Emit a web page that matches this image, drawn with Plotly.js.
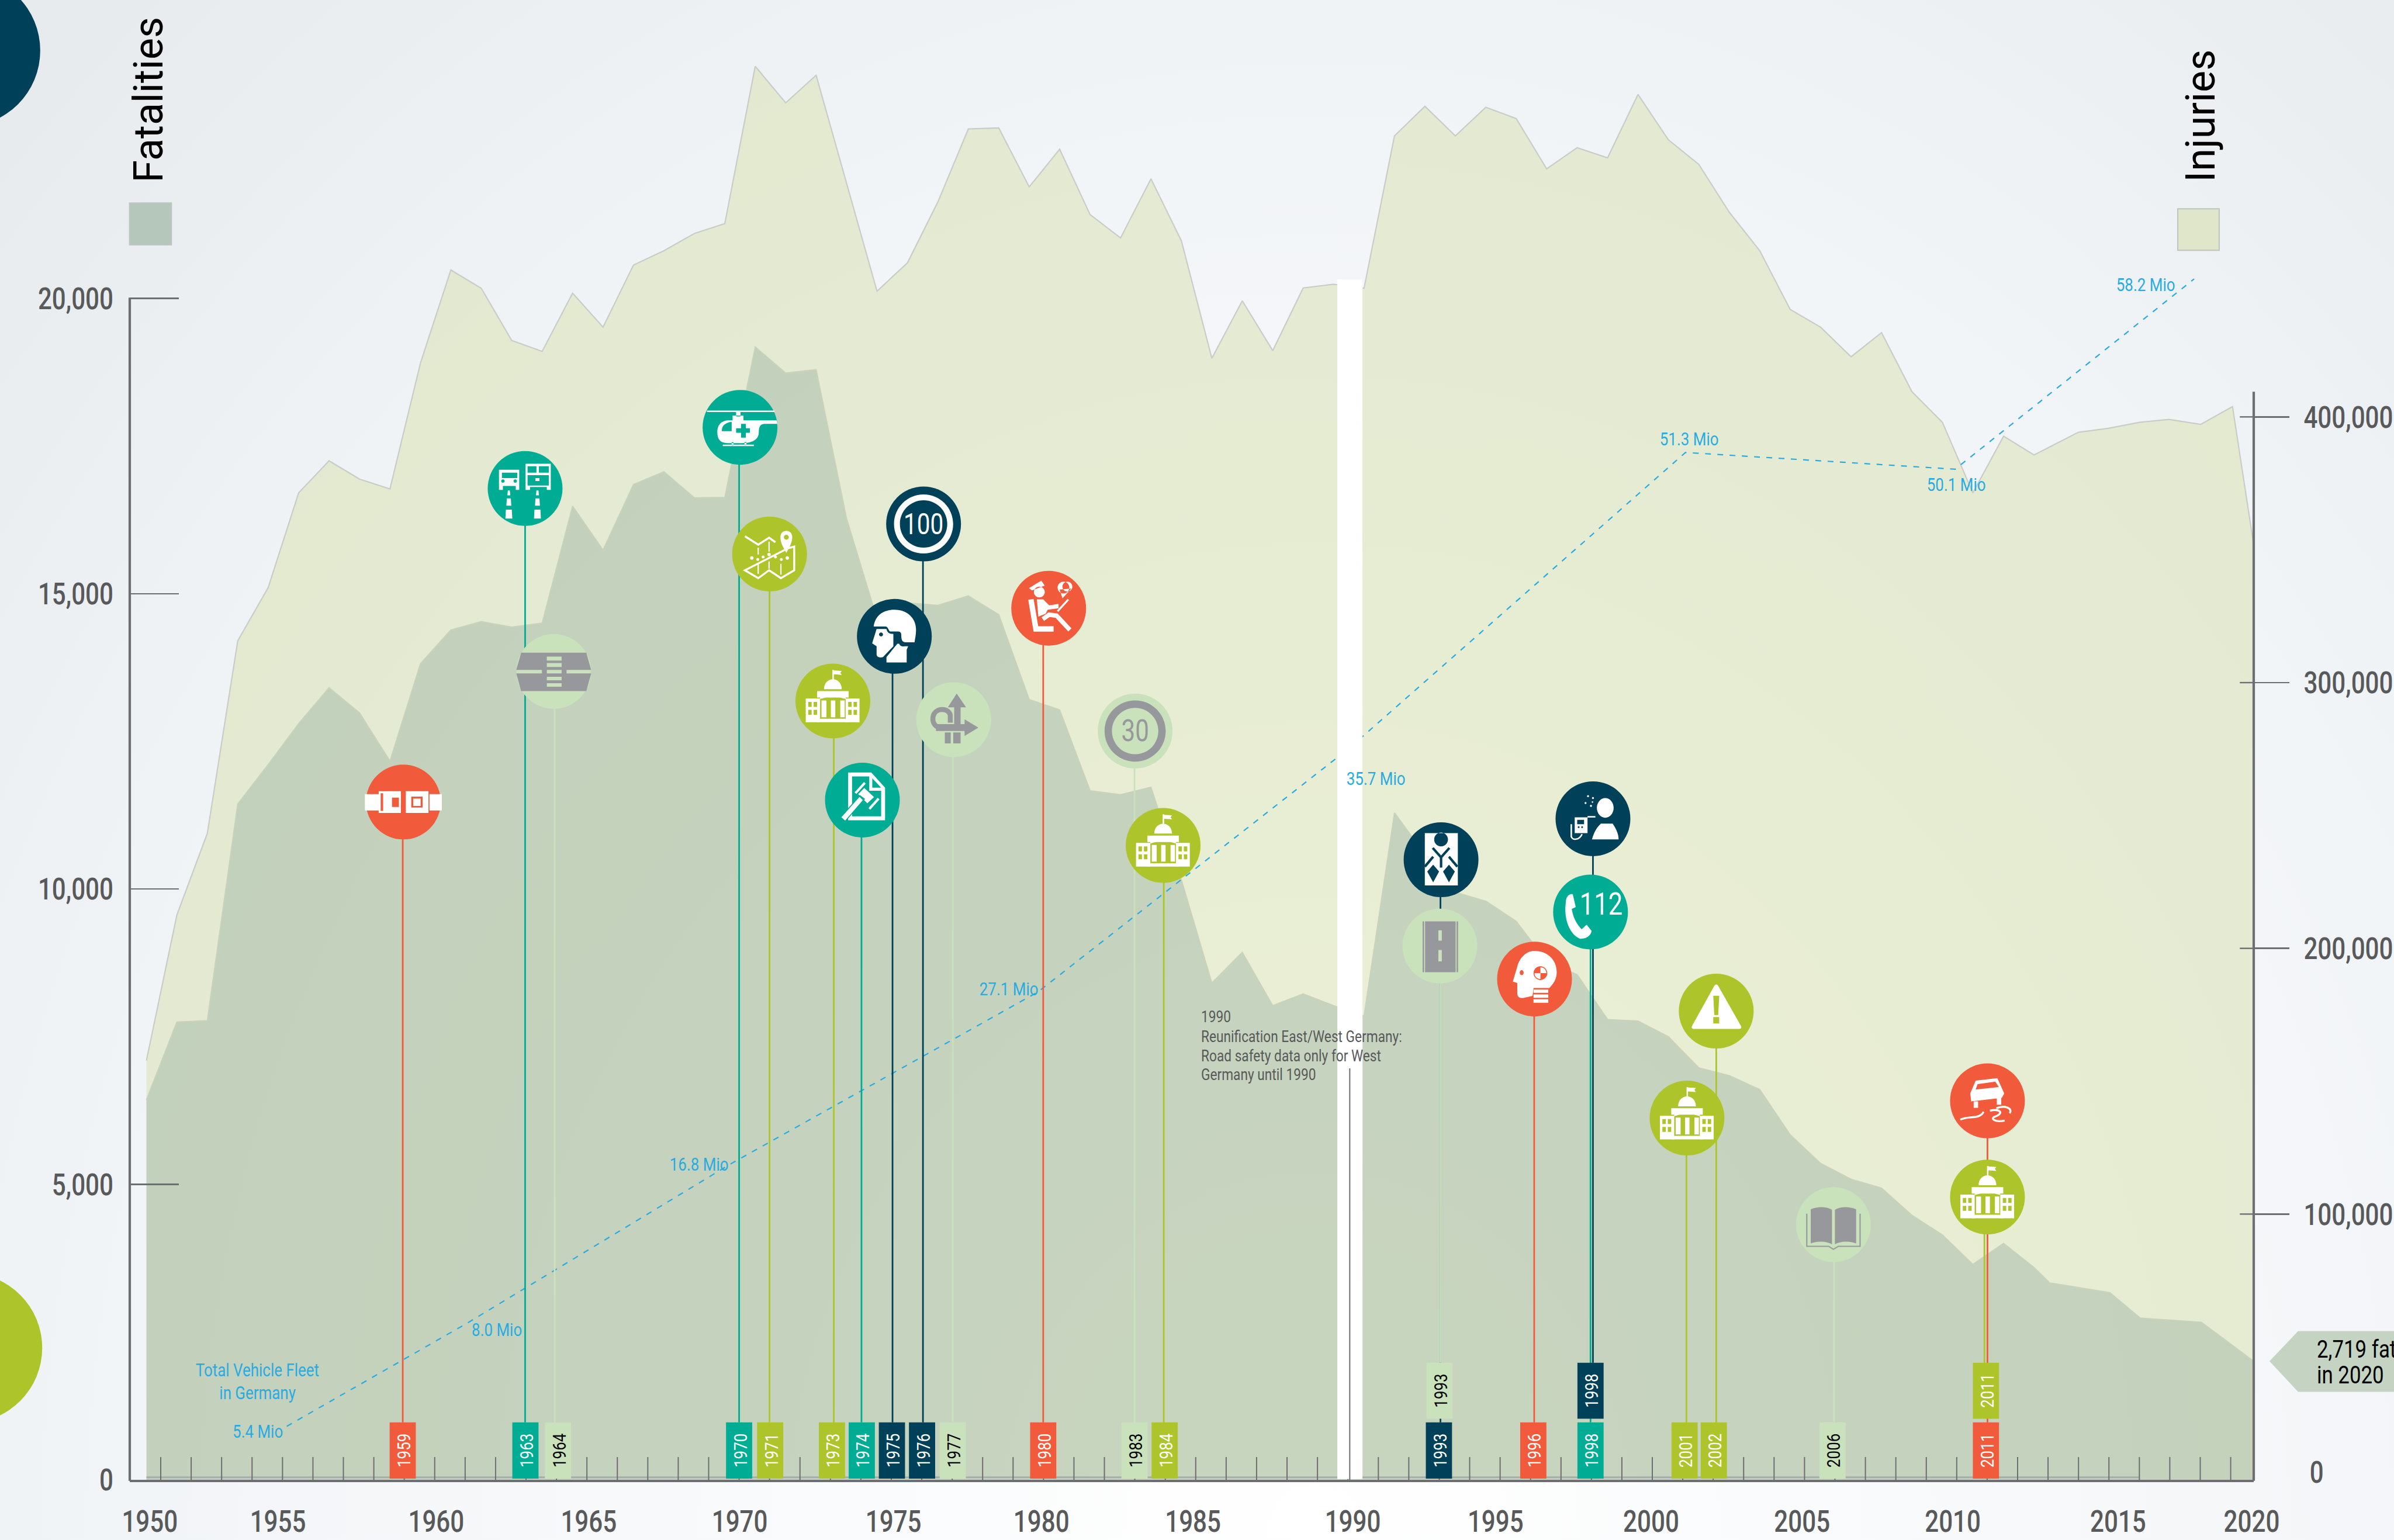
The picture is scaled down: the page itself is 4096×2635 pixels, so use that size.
<!DOCTYPE html>
<html><head><meta charset="utf-8">
<script src="https://cdn.plot.ly/plotly-3.0.1.min.js"></script>
<style>
html,body{margin:0;padding:0;width:4096px;height:2635px;overflow:hidden;
background:radial-gradient(ellipse 75% 135% at 55% 100%,#ffffff 0%,#f8f9fb 38%,#f1f4f7 70%,#e7ebee 100%);}
#chart{width:4096px;height:2635px;}
</style></head><body><div id="chart"></div>
<script>
// ---------- data ----------
const injuryX=[1950.53,1951.53,1952.53,1953.53,1954.53,1955.53,1956.53,1957.53,1958.53,1959.53,1960.53,1961.53,1962.53,1963.53,1964.53,1965.53,1966.53,1967.53,1968.53,1969.53,1970.53,1971.53,1972.53,1973.53,1974.53,1975.53,1976.53,1977.53,1978.53,1979.53,1980.53,1981.53,1982.53,1983.53,1984.53,1985.53,1986.53,1987.53,1988.53,1989.53,1990.53,1991.53,1992.53,1993.53,1994.53,1995.53,1996.53,1997.53,1998.53,1999.53,2000.53,2001.53,2002.53,2003.53,2004.53,2005.53,2006.53,2007.53,2008.53,2009.53,2010.53,2011.54,2012.54,2014.0,2014.98,2016.0,2016.97,2018.02,2019.06,2019.757];
const injuries=[157820,212563,243254,315736,335776,371405,383467,376600,372889,420208,455279,448413,428744,424662,446558,433754,457135,462516,469011,472722,531917,518185,528577,487938,447300,457970,480887,508350,508721,486547,500742,476136,467341,489609,466227,422069,443682,424939,448506,449898,448413,505758,516891,505758,516515,512247,493320,501299,497495,521340,504268,494990,476990,462516,440434,433754,422620,431713,409445,397940,371405,392744,385693,394229,395713,397940,399054,397198,403878,351735];
const fatalityX=[1950.53,1951.53,1952.53,1953.53,1954.53,1955.53,1956.53,1957.53,1958.53,1959.53,1960.53,1961.53,1962.53,1963.53,1964.53,1965.53,1966.53,1967.53,1968.53,1969.53,1970.53,1971.53,1972.53,1973.53,1974.53,1975.53,1976.53,1977.53,1978.53,1979.53,1980.53,1981.53,1982.53,1983.53,1984.53,1985.53,1986.53,1987.53,1988.53,1989.53,1990.53,1991.53,1992.53,1993.53,1994.53,1995.53,1996.53,1997.53,1998.53,1999.53,2000.53,2001.53,2002.53,2003.53,2004.53,2005.53,2006.53,2007.53,2008.53,2009.53,2010.53,2011.54,2012.54,2013.05,2015.03,2016.03,2018.04,2019.757];
const fatalities=[6432,7750,7775,11440,12108,12800,13410,12984,12166,13815,14386,14528,14436,14503,16482,15739,16849,17066,16624,16632,19178,18735,18794,16273,14578,14845,14804,14962,14645,13209,13034,11665,11599,11724,10154,8410,8927,8026,8226,8026,7850,11290,10588,9946,9795,9453,8777,8552,7792,7767,7500,6974,6841,6607,5839,5355,5088,4937,4478,4144,3647,4003,3593,3335,3168,2738,2667,2007];
const fleetX=[1955.14,1961.09,1969.69,1979.82,1990.06,2001.09,2009.95,2017.80];
const fleetY=[906,2659,5338,8260,12392,17391,17108,20329];
const fleetLabels=['5.4 Mio','8.0 Mio','16.8 Mio','27.1 Mio','35.7 Mio','51.3 Mio','50.1 Mio','58.2 Mio'];
const eventYears=[1959,1963,1964,1970,1971,1973,1974,1975,1976,1977,1980,1983,1984,1993,1993,1996,1998,1998,2001,2002,2006,2011,2011];
const eventKinds=['red','teal','light','teal','green','green','teal','navy','navy','light','red','light','green','navy','light','red','navy','teal','green','green','light','red','green'];
const eventIcons=['belt','rescue','crossing','heli','map','house','gavel','helmet','limit100','arrows','police','limit30','house','harness','road','dummy','breath','phone','house','warning','book','skid','house'];
const stemPos=[1958.95,1962.97,1963.94,1970,1971,1973.11,1974.02,1975.04,1976.04,1977.02,1979.99,1982.99,1983.95,1993.04,1993.04,1996.12,1998.05,1997.97,2001.12,2002.1,2005.97,2011.01,2010.91];
const circlePos=[1958.97,1962.97,1963.91,1970.03,1971,1973.08,1974.05,1975.1,1976.06,1977.05,1980.17,1983.01,1983.93,1993.06,1993.02,1996.13,1998.05,1997.97,2001.14,2002.1,2005.95,2011.01,2011.01];
const circleVal=[11473,16782,13685,17817,15672,13184,11507,14278,16181,12867,14754,12675,10739,10497,9036,8477,11190,9612,6123,7934,4320,6415,4787];
const barPos=[1958.95,1962.98,1964.05,1970,1971.02,1973.05,1974.03,1975.02,1976.01,1977.02,1979.99,1982.99,1983.98,1992.99,1993.01,1996.09,1997.97,1997.97,2001.06,2002.02,2005.92,2010.96,2010.96];
const barUpper=[0,0,0,0,0,0,0,0,0,0,0,0,0,0,1,0,1,0,0,0,0,0,1];
const xLabels=['1950','1955','1960','1965','1970','1975','1980','1985','1990','1995','2000','2005','2010','2015','2020'];
const xLabelPos=[1950.64,1954.85,1960.05,1965.06,1970.02,1975.07,1979.93,1984.91,1990.16,1994.85,1999.96,2004.92,2009.87,2015.3,2019.69];
const leftTicks=[0,5000,10000,15000,20000];
const leftLabels=['0','5,000','10,000','15,000','20,000'];
const rightTicks=[100000,200000,300000,400000];
const rightLabels=['100,000','200,000','300,000','400,000'];

// ---------- geometry / style ----------
const S=0.8437, FONT='Roboto,sans-serif', SQUEEZE=0.81, INK='#58595b', AX='#6d6e71';
const PAL={red:'#f15a3a',teal:'#00ad94',green:'#adc52a',navy:'#004058',light:'#c9e2bb'};
const GLYPH='#97989c', BLUE='#29abe2';
const XL=1949.982,XR=2019.757,TOP=100;
const px=x=>(x-263.5)/(4570-263.5), py=y=>(3001.5-y)/(3001.5-TOP);

// icon path helpers: offsets from circle centre, reference pixels, y downwards
const P=s=>s.replace(/(-?[\d.]+)\s*,\s*(-?[\d.]+)/g,(m,a,b)=>(a*S).toFixed(1)+','+(-b*S).toFixed(1));
const rect=(a,b,c,d)=>`M${a},${b} L${c},${b} L${c},${d} L${a},${d} Z `;
const poly=(...v)=>{let s='';for(let i=0;i<v.length;i+=2)s+=(i?'L':'M')+v[i]+','+v[i+1]+' ';return s+'Z ';};
const circ=(x,y,r,q)=>{q=q||r;const k=.5523;return `M${x-r},${y} C${x-r},${y-k*q} ${x-k*r},${y-q} ${x},${y-q} C${x+k*r},${y-q} ${x+r},${y-k*q} ${x+r},${y} C${x+r},${y+k*q} ${x+k*r},${y+q} ${x},${y+q} C${x-k*r},${y+q} ${x-r},${y+k*q} ${x-r},${y} Z `;};
const W='#ffffff';
const ICONS={
 belt:bg=>[{d:rect(-78,-16,-50,17)+rect(53,-16,78,17)+rect(-50,-22,-5,22)+rect(-23,-9,-9,10)+rect(-46,-18,-41,18)+rect(5,-22,51,22)+rect(16,-11,39,11)+rect(20,-7,35,8),f:W}],
 rescue:bg=>[{d:rect(-53,-38,-12,3)+rect(-47,-32,-16,-21)+circ(-45,-15,3.5)+circ(-20,-15,3.5)+rect(-45,-5,-19,3)+rect(1,-50,52,3)+rect(5,-45,23,-32)+rect(28,-45,48,-32)+rect(5,-27,48,-6)+rect(21,-21,29,-15)+rect(10,-3,44,3)
   +poly(-35,4,-31,4,-30,14,-36,14)+poly(-37,20,-29,20,-28,35,-38,35)+poly(-39,43,-27,43,-26,61,-40,61)+poly(23,4,27,4,28,14,22,14)+poly(21,20,29,20,30,35,20,35)+poly(19,43,31,43,32,61,18,61),f:W}],
 crossing:bg=>[{d:poly(-66,-38,66,-38,76,-3,26,-3,26,4,76,4,66,40,-66,40,-76,4,-24,4,-24,-3,-76,-3)+rect(-14,-30,16,-22)+rect(-14,-17,16,-9)+rect(-14,-3,16,4)+rect(-14,11,16,18)+rect(-14,24,16,31),f:GLYPH}],
 heli:bg=>[{d:rect(-67,-34,70,-31)+rect(-8,-31,1,-22)+rect(-15,-24,7,-14)+'M-46,10 C-46,-8 -35,-14 -22,-14 L74,-14 L76,-7 L50,-7 C42,-7 38,-2 38,10 C38,25 25,32 5,32 L-25,32 C-40,32 -46,25 -46,10 Z '+'M-37,8 C-37,-3 -31,-9 -17,-11 L-17,8 Z '+poly(-8,2,2,2,2,-7,12,-7,12,2,20,2,20,11,12,11,12,21,2,21,2,11,-8,11)+rect(-35,35,28,38)+rect(-17,30,-13,36)+rect(9,30,13,36),f:W}],
 map:bg=>[{d:'M-50,-36 L-23,-19 L-1,-33 L12,-24 M38,-12 L50,-15 L50,33 L23,49 L-1,33 L-23,49 L-50,33 Z',s:W,w:4},
   {d:'M-23,-13 L-23,1 M-23,18 L-23,40 M-1,-25 L-1,-5 M-1,15 L-1,30 M23,20 L23,42',s:W,w:2.6},
   {d:'M34,-2 C28,-14 22,-22 22,-34 C22,-42 27,-47 34,-47 C41,-47 46,-42 46,-34 C46,-22 40,-14 34,-2 Z '+circ(34,-34,5)+circ(-36,8,3.5)+circ(-24,11,3)+circ(-13,6,3)+circ(-1,1,3.5)+circ(12,6,3)+circ(24,11,3)+circ(36,8,3.5),f:W}],
 house:bg=>[{d:'M-18,-24 C-18,-36 -10,-44 0,-44 C10,-44 18,-36 18,-24 Z '+rect(-1,-63,2,-44)+poly(2,-62,18,-61,15,-57,18,-53,2,-54)+rect(-32,-20,32,-7)+rect(-55,-5,-26,43)+rect(-50,2,-43,12)+rect(-39,2,-32,12)+rect(-50,18,-43,28)+rect(-39,18,-32,28)+rect(26,-5,54,43)+rect(31,2,38,12)+rect(42,2,49,12)+rect(31,18,38,28)+rect(42,18,49,28),f:W},
   {d:poly(0,-16,-26,-8,-26,-4,0,-11,26,-4,26,-8)+rect(-23,-1,-13,33)+rect(-4,-1,5,33)+rect(15,-1,24,33)+poly(-25,36,25,36,32,43,-32,43),f:W}],
 gavel:bg=>[{d:poly(-29,-56,18,-56,46,-25,46,41,-29,41)+poly(-21,-48,14,-48,14,-19,38,-19,38,33,-21,33)+poly(20,-44,38,-25,20,-25),f:W},
   {d:poly(-44,35,-35,43,4,-2,-5,-9)+poly(-10,-12,4,-26,25,-6,10,8),f:W,s:bg,w:2},{d:'M-14,-14 L5,-35 M14,18 L33,-3',s:W,w:5}],
 helmet:bg=>[{d:'M-42,-20 C-38,-45 -20,-54 0,-54 C28,-54 44,-35 44,-14 C44,-3 42,5 41,12 L22,12 C15,12 14,5 14,-3 C14,-8 12,-10 6,-10 L-8,-10 C-12,-10 -12,-20 -18,-20 Z',f:W},
   {d:'M-36,-15 L-16,-15 C-14,-6 -8,-5 -2,-5 L-2,20 L-23,42 C-30,44 -36,42 -36,36 L-36,20 L-45,14 Z '+circ(-27,-4,4),f:W},
   {d:'M-16,53 L-16,42 L6,15 L10,15 C12,22 18,20 28,20 L25,27 L25,53 Z',f:W}],
 limit100:bg=>[{d:circ(0,0,60)+circ(0,0,48),f:W}],
 limit30:bg=>[{d:circ(0,0,62)+circ(0,0,47),f:GLYPH}],
 arrows:bg=>[{d:poly(6,-53,25,-25,14,-25,14,9,22,9,22,-1,50,16,22,33,22,23,-36,23,-36,9,1,9,1,-25,-12,-25)+rect(-18,26,-6,48)+rect(-1,26,14,48),f:GLYPH},
   {d:'M-7,6 L-7,-9 C-9,-24 -38,-26 -42,-6 C-44,8 -36,16 -25,16',s:GLYPH,w:10}],
 police:bg=>[{d:'M-36,-18 L-26,42 L10,42',s:W,w:11},{d:circ(-19,-33,11)+poly(-40,-41,-15,-56,-8,-46,-34,-36),f:W},
   {d:poly(-24,-18,-11,-18,1,-6,20,-9,20,0,-2,3,-6,11,-21,17),f:W},{d:'M-12,22 L1,13 L16,15 L43,44',s:W,w:9},
   {d:'M40,-18 L18,6',s:W,w:4},{d:circ(30,-42,12)+circ(38,-44,10)+poly(22,-38,46,-40,28,-20),f:W}],
 harness:bg=>[{d:'M-33,-54 L34,-54 L34,52 L-33,52 Z '+circ(0,-41,14),f:W},{d:'M-17,-24 L0,-5 L17,-24 M0,-5 L0,16 M-16,-6 L-33,14 M16,-6 L33,14',s:bg,w:5},
   {d:poly(-28,24,-16,10,-4,24,-16,46)+poly(4,24,16,10,28,24,16,46),f:bg}],
 road:bg=>[{d:rect(-35,-50,37,53)+rect(-3,-32,4,-11)+rect(-3,8,4,31)+rect(-32,-50,-30,53)+rect(32,-50,34,53),f:GLYPH}],
 dummy:bg=>[{d:'M-44,5 L-35,-25 C-30,-45 -15,-57 0,-57 C25,-57 45,-40 45,-14 C45,0 38,10 30,18 L-2,18 L-4,34 L-21,38 C-32,40 -35,35 -35,28 L-35,8 Z '+circ(-26,-13,4,5)+circ(12,-12,14),f:W},
   {d:'M12,-12 L12,-24 C19,-24 24,-19 24,-12 Z M12,-12 L12,0 C5,0 0,-5 0,-12 Z',f:W},{d:rect(-2,21,28,28)+rect(-2,31,28,38)+rect(-2,41,28,48),f:W}],
 breath:bg=>[{d:circ(25,-22,17,20)+'M-2,42 C3,25 8,18 16,10 L40,10 C48,22 52,32 52,42 Z',f:W},
   {d:rect(-37,-3,-11,29)+rect(-32,2,-18,11)+circ(-29,17,1.8)+circ(-22,17,1.8),f:W},{d:'M-11,-4 L5,-4',s:W,w:3},{d:'M-44,11 L-44,36 C-42,44 -28,44 -22,31',s:W,w:3},
   {d:circ(-10,-46,2)+circ(0,-42,2)+circ(-15,-32,2)+circ(-4,-26,2)+circ(-1,-34,1.6),f:W}],
 phone:bg=>[{d:'M-50,-20 C-50,-32 -42,-38 -36,-36 L-30,-10 L-38,-6 C-35,15 -25,28 -18,35 L-8,26 L2,38 C2,46 -8,56 -22,54 C-42,45 -55,15 -50,-20 Z',f:W}],
 warning:bg=>[{d:'M-4,-51 C-2,-55 2,-55 4,-51 L50,30 C52,34 50,36 47,36 L-46,36 C-49,36 -51,34 -49,30 Z '+poly(-6,-31,6,-31,4,8,-4,8)+rect(-6,12,6,25),f:W}],
 book:bg=>[{d:'M-46,-31 C-33,-37 -14,-37 -3,-30 L-3,40 C-14,33 -33,33 -46,38 Z M3,-30 C14,-37 33,-37 46,-31 L46,38 C33,33 14,33 3,40 Z',f:GLYPH},{d:'M-54,-22 L-54,44 L-10,44 L0,50 L10,44 L54,44 L54,-22',s:GLYPH,w:2.5}],
 skid:bg=>[{d:poly(-24,-41,20,-46,34,-15,29,-6,-33,1,-35,-15)+poly(-20,-34,16,-39,23,-28,-24,-23),f:W},{d:rect(-28,1,-19,14)+rect(19,-6,28,8),f:W},
   {d:'M-55,38 C-40,30 -15,38 -8,22 M5,20 C25,15 35,25 15,32 C5,36 15,44 35,40 M18,15 C35,8 52,15 45,25',s:W,w:4}]
};

// ---------- traces ----------
const yrs=[];for(let y=1951;y<=2019;y++)yrs.push(y);
const tickXs=[],tickYs=[];yrs.forEach(y=>{tickXs.push(y,y,null);tickYs.push(0,385,null);});
const base={hoverinfo:'skip',showlegend:false,cliponaxis:false};
const traces=[
 {...base,type:'scatter',mode:'lines',x:injuryX,y:injuries,xaxis:'x',yaxis:'y',fill:'tozeroy',fillcolor:'rgba(208,219,152,0.40)',line:{color:'#c9ccc9',width:2.2}},
 {...base,type:'scatter',mode:'lines',x:fatalityX,y:fatalities,xaxis:'x',yaxis:'y2',fill:'tozeroy',fillcolor:'rgba(147,173,159,0.41)',line:{color:'#c9d2ba',width:2}},
 {...base,type:'scatter',mode:'lines',x:[1950.53,2016],y:[42,42],xaxis:'x',yaxis:'y2',line:{color:'#a5aeaf',width:3.2}},
 {...base,type:'scatter',mode:'lines',x:tickXs,y:tickYs,xaxis:'x',yaxis:'y2',line:{color:AX,width:2}},
 {...base,type:'scatter',mode:'lines',x:fleetX,y:fleetY,xaxis:'x',yaxis:'y2',line:{color:BLUE,width:2.2,dash:'10px,11px'}}
];
eventYears.forEach((yr,i)=>{
  traces.push({...base,type:'scatter',mode:'lines',x:[stemPos[i],stemPos[i]],y:[barUpper[i]?1982:972,circleVal[i]],xaxis:'x',yaxis:'y2',line:{color:PAL[eventKinds[i]],width:2.8}});
});
traces.push({...base,type:'scatter',mode:'markers',x:circlePos,y:circleVal,xaxis:'x',yaxis:'y2',marker:{size:128,color:eventKinds.map(k=>PAL[k]),line:{width:0}}});

// ---------- shapes ----------
const shapes=[];
const pRect=(a,b,c,d,fill,lc)=>shapes.push({type:'rect',xref:'paper',yref:'paper',x0:px(a),x1:px(c),y0:py(b),y1:py(d),fillcolor:fill,line:{color:lc||fill,width:lc?2:0},layer:'above'});
const pCirc=(cx,cy,r,fill)=>shapes.push({type:'circle',xref:'paper',yref:'paper',x0:px(cx-r),x1:px(cx+r),y0:py(cy-r),y1:py(cy+r),fillcolor:fill,line:{width:0},layer:'above'});
pCirc(-72,103,154,PAL.navy);pCirc(-66,2734,152,PAL.green);
pRect(263,412,348,497,'#b5c7ba','#bcc8bf');
pRect(4416,424,4500,508,'#dfe6c9','#c0c4bf');
// both value axes stop below the top of the plot area
shapes.push({type:'line',xref:'paper',yref:'paper',x0:1,x1:1,y0:py(3003.5),y1:py(795),line:{color:AX,width:4.2},layer:'above'});
shapes.push({type:'line',xref:'paper',yref:'paper',x0:0,x1:0,y0:py(3003.5),y1:py(604),line:{color:AX,width:4.2},layer:'above'});
// callout pointing at the last fatality value
const cp=[[4602,2761],[4660,2700],[4900,2700],[4900,2823],[4660,2823]];
shapes.push({type:'path',xref:'paper',yref:'paper',path:cp.map((q,i)=>(i?'L':'M')+px(q[0])+','+py(q[1])).join(' ')+' Z',fillcolor:'#c5d3c2',line:{width:0},layer:'above'});
// cross part of the right axis ticks
rightTicks.forEach(v=>shapes.push({type:'line',xref:'x',yref:'y',x0:2019.30,x1:XR,y0:v,y1:v,line:{color:AX,width:2.4},layer:'above'}));
// year tags
eventYears.forEach((yr,i)=>{
  const k=eventKinds[i],up=barUpper[i];
  shapes.push({type:'rect',xref:'x',yref:'y2',x0:barPos[i]-.43,x1:barPos[i]+.43,y0:up?1035:20,y1:up?1982:972,fillcolor:PAL[k],line:{width:0},layer:'above',
    label:{text:String(yr),textangle:-90,textposition:'middle center',font:{family:FONT,size:32,color:k==='light'?'#000000':'#ffffff'}}});
});
// icons
eventIcons.forEach((name,i)=>{
  ICONS[name](PAL[eventKinds[i]]).forEach(l=>shapes.push({type:'path',xref:'x',yref:'y2',xsizemode:'pixel',ysizemode:'pixel',xanchor:circlePos[i],yanchor:circleVal[i],path:P(l.d),
    fillcolor:l.f||'rgba(0,0,0,0)',line:{color:l.s||'rgba(0,0,0,0)',width:l.w?l.w*S:0},fillrule:'evenodd',layer:'above'}));
});
// 1990 break + leader of its note
pRect(2712,567,2763,3000,'#ffffff');
shapes.push({type:'line',xref:'x',yref:'y2',x0:1990.06,x1:1990.06,y0:0,y1:6966,line:{color:AX,width:2},layer:'above'});

// ---------- annotations ----------
const note=(text,x,y,size,color,o)=>Object.assign({text,xref:'paper',yref:'paper',x:px(x),y:py(y),xanchor:'center',yanchor:'middle',showarrow:false,font:{family:FONT,size,color}},o||{});
const LEFT=['2,719 fatalities','in 2020','1990','Reunification East/West Germany:','Road safety data only for West','Germany until 1990'];
const annotations=[
 note('Fatalities',302,202,70,'#000000',{textangle:-90}),
 note('Injuries',4462,235,70,'#000000',{textangle:-90}),
 note('0',4698,2987,52,INK,{font:{family:FONT,size:52,color:INK,weight:500}}),
 note(LEFT[0],4696,2736,43,'#000000',{xanchor:'left'}),
 note(LEFT[1],4696,2788,43,'#000000',{xanchor:'left'}),
 note('Total Vehicle Fleet',522,2779,32,BLUE),
 note('in Germany',522,2825,32,BLUE),
 note(LEFT[2],2433,2062,28,INK,{xanchor:'left'}),
 note(LEFT[3],2433,2102,28,INK,{xanchor:'left'}),
 note(LEFT[4],2433,2142,28,INK,{xanchor:'left'}),
 note(LEFT[5],2433,2180,28,INK,{xanchor:'left'})
];
const fleetLabelPos=[[523,2903],[1008,2697],[1418,2362],[2046,2006],[2790,1579],[3425,890],[3967,983],[4351,578]];
fleetLabels.forEach((t,i)=>annotations.push(note(t,fleetLabelPos[i][0],fleetLabelPos[i][1],32,BLUE)));
const iconText=(t,name,dx,dy,size,color)=>{const i=eventIcons.indexOf(name);return {text:t,xref:'x',yref:'y2',x:circlePos[i],y:circleVal[i],xshift:dx*S,yshift:-dy*S,xanchor:'center',yanchor:'middle',showarrow:false,font:{family:FONT,size,color}};};
annotations.push(iconText('100','limit100',0,0,50,'#ffffff'),iconText('30','limit30',0,0,52,GLYPH),iconText('112','phone',22,-17,54,'#ffffff'));

// ---------- layout ----------
const tf={family:FONT,size:52,color:INK,weight:500};
const layout={
 width:4096,height:2635,paper_bgcolor:'rgba(0,0,0,0)',plot_bgcolor:'rgba(0,0,0,0)',showlegend:false,hovermode:false,
 margin:{l:222.3,r:240.3,t:TOP*S,b:102.7,pad:0},
 xaxis:{domain:[0,1],range:[XL,XR],anchor:'y',type:'linear',showgrid:false,zeroline:false,showline:true,linecolor:AX,linewidth:4.2,ticks:'',tickmode:'array',tickvals:xLabelPos,ticktext:xLabels,tickfont:tf,tickangle:0,ticklabelstandoff:22,layer:'above traces'},
 yaxis:{domain:[0,1],range:[0,(3001.5-TOP)/0.005389],anchor:'x',side:'right',showgrid:false,zeroline:false,showline:false,ticks:'outside',ticklen:60,tickwidth:2.4,tickcolor:AX,tickmode:'array',tickvals:rightTicks,ticktext:rightLabels,tickfont:tf,ticklabelstandoff:14},
 yaxis2:{domain:[0,1],range:[0,(3001.5-TOP)/0.1198],anchor:'x',side:'left',showgrid:false,zeroline:false,showline:false,ticks:'inside',ticklen:84,tickwidth:2.4,tickcolor:AX,tickmode:'array',tickvals:leftTicks,ticktext:leftLabels,tickfont:tf,ticklabelstandoff:27},
 shapes,annotations
};
Plotly.newPlot('chart',traces,layout,{displayModeBar:false,staticPlot:true}).then(()=>{
  // the reference uses a condensed face: narrow every label except the two big headings
  document.querySelectorAll('#chart svg text').forEach(t=>{
    const s=t.textContent;
    if(!s||s==='Fatalities'||s==='Injuries')return;
    const w=t.getComputedTextLength();
    t.setAttribute('textLength',(w*SQUEEZE).toFixed(1));
    t.setAttribute('lengthAdjust','spacingAndGlyphs');
    if(LEFT.includes(s)&&t.closest('.annotation')){
      t.setAttribute('x',(parseFloat(t.getAttribute('x'))-w*(1-SQUEEZE)/2).toFixed(1));
    }
  });
});
</script></body></html>
